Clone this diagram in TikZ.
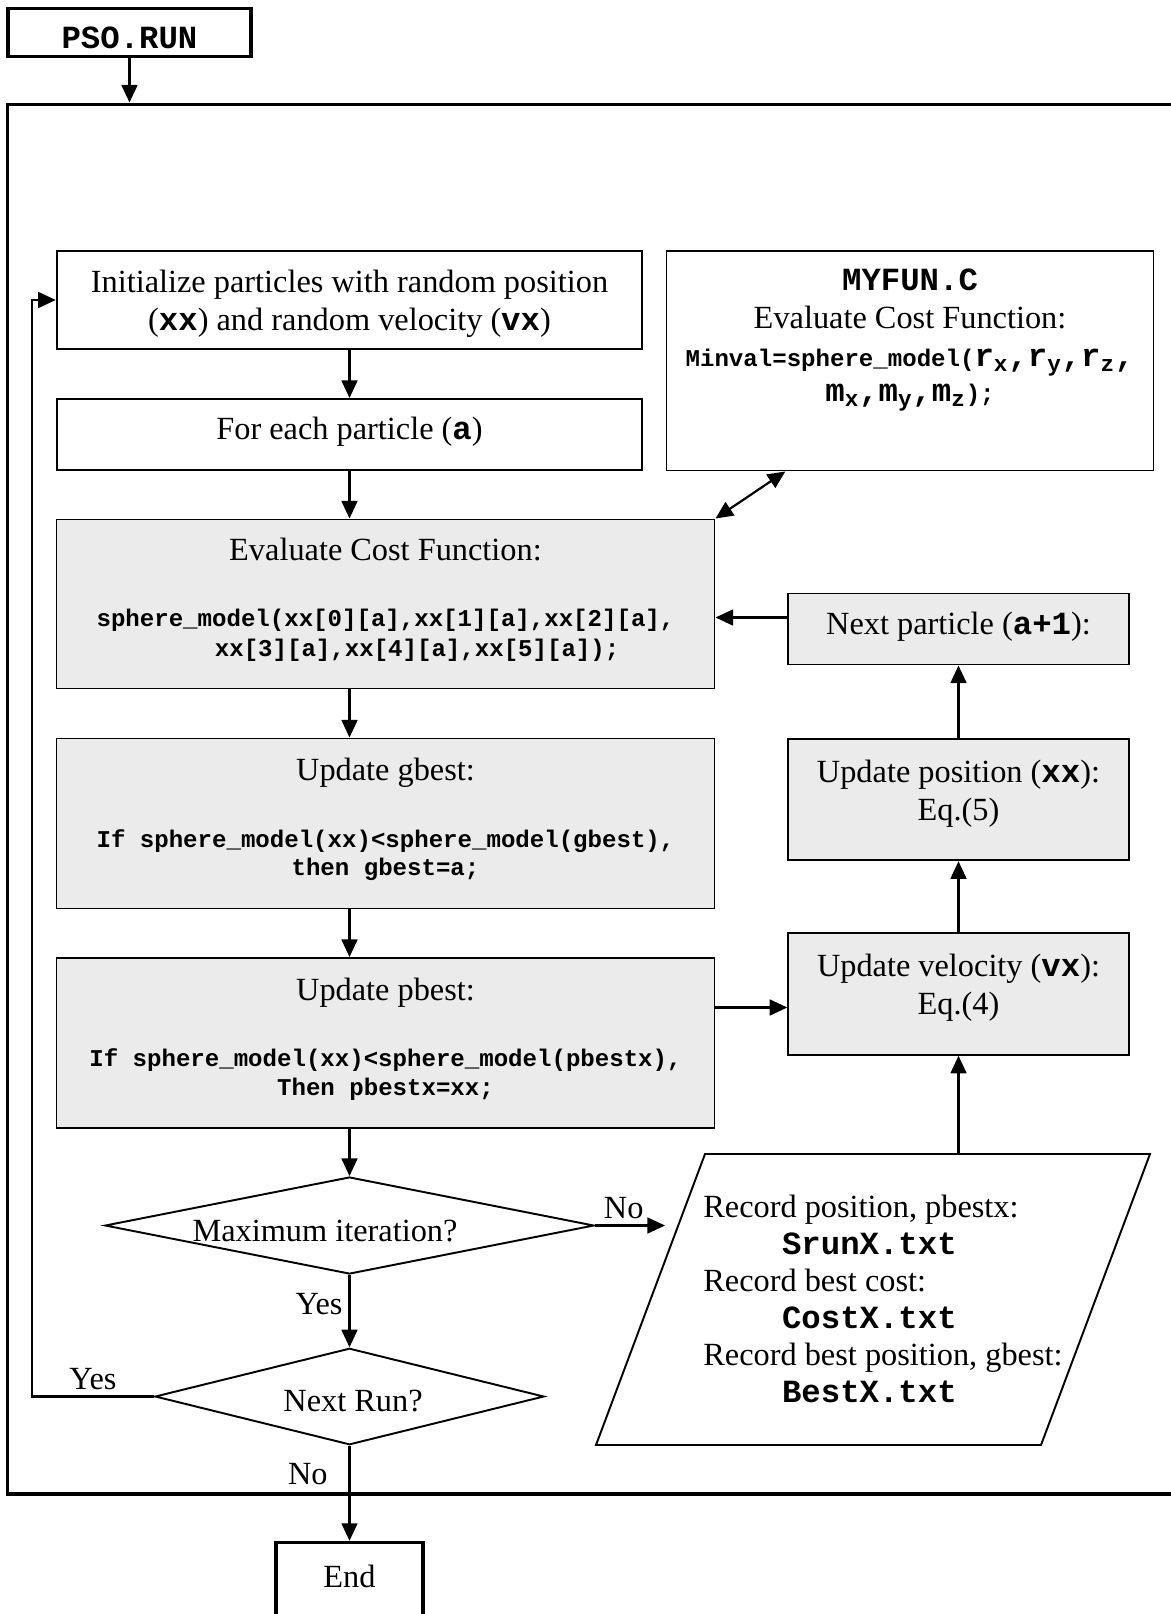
\documentclass[tikz,border=0pt]{standalone}
\usepackage{fontspec}
\setmainfont{Liberation Serif}
\newfontfamily\codefont{Liberation Mono}
\usetikzlibrary{arrows.meta}
\usetikzlibrary{shapes.geometric}
\usetikzlibrary{calc}
\newcommand{\cbig}[1]{{\codefont\bfseries #1}}
\newcommand{\csmall}[1]{{\codefont\bfseries\fontsize{13.7}{16.9}\selectfont #1}}
\tikzset{
	box/.style={draw, line width=1.1pt, align=center, inner sep=0pt},
	graybox/.style={box, fill=black!8},
	thickbox/.style={box, line width=1.9pt},
	decision/.style={draw, diamond, line width=1.1pt, inner sep=0pt},
	flow/.style={-{Triangle[length=10pt, width=9pt]}, line width=1.25pt},
}

\begin{document}
\begin{tikzpicture}[font=\fontsize{18.4}{21.6}\selectfont]
	\clip (0,0) rectangle (23.42,-32.28);
	\node[box, line width=2.2pt, minimum width=23.85cm, minimum height=27.79cm] (frame) at (12.075,-15.985) {};
	\node[thickbox, minimum width=4.86cm, minimum height=0.97cm, text height=18pt] (pso) at (2.59,-0.65) {\cbig{PSO.RUN}};

	% left column
	\node[box, minimum width=11.71cm, minimum height=1.95cm, text depth=0pt] (init) at (6.99,-6.0) {Initialize particles with random position\\(\cbig{xx}) and random velocity (\cbig{vx})};
	\node[box, minimum width=11.71cm, minimum height=1.42cm, text depth=7.5pt] (foreach) at (6.99,-8.69) {For each particle (\cbig{a})};
	\node[graybox, minimum width=13.16cm, minimum height=3.38cm, text depth=7.5pt] (eval) at (7.71,-12.08) {Evaluate Cost Function:\\[16.2pt]\csmall{sphere\_model(xx[0][a],xx[1][a],xx[2][a],}\\[-4.7pt]\hspace*{36pt}\csmall{xx[3][a],xx[4][a],xx[5][a]);}};
	\node[graybox, minimum width=13.16cm, minimum height=3.40cm, text depth=7.5pt] (gbest) at (7.71,-16.47) {Update gbest:\\[16.2pt]\csmall{If sphere\_model(xx)<sphere\_model(gbest),}\\[-5.5pt]\csmall{then gbest=a;}};
	\node[graybox, minimum width=13.16cm, minimum height=3.40cm, text depth=7.5pt] (pbest) at (7.71,-20.86) {Update pbest:\\[16.2pt]\csmall{If sphere\_model(xx)<sphere\_model(pbestx),}\\[-5.5pt]\csmall{Then pbestx=xx;}};
	\node[decision, minimum width=9.78cm, minimum height=1.94cm] (maxit) at (6.99,-24.51) {};
	\node (maxittext) at (6.5,-24.62) {Maximum iteration?};
	\node[decision, minimum width=7.78cm, minimum height=1.93cm] (nextrun) at (6.99,-27.93) {};
	\node (nextruntext) at (7.06,-28.03) {Next Run?};
	\node[thickbox, minimum width=2.94cm, minimum height=1.5cm, text depth=4pt] (endbox) at (6.99,-31.6) {End};

	% right column
	\node[box, minimum width=9.74cm, minimum height=4.39cm] (myfun) at (18.2,-7.215) {};
	\node[align=center] (myfuntext) at (18.2,-6.8) {\cbig{MYFUN.C}\\Evaluate Cost Function:\\\csmall{Minval=sphere\_model(}\cbig{r\textsubscript{x},r\textsubscript{y},r\textsubscript{z},}\\[-1.5pt]\cbig{m\textsubscript{x},m\textsubscript{y},m\textsubscript{z}}\csmall{);}};
	\node[graybox, minimum width=6.81cm, minimum height=1.42cm, text depth=6.3pt] (nextp) at (19.17,-12.58) {Next particle (\cbig{a+1}):};
	\node[graybox, minimum width=6.81cm, minimum height=2.43cm, text depth=10.8pt] (pos) at (19.17,-15.99) {Update position (\cbig{xx}):\\Eq.(5)};
	\node[graybox, minimum width=6.81cm, minimum height=2.43cm, text depth=10.8pt] (velo) at (19.17,-19.88) {Update velocity (\cbig{vx}):\\Eq.(4)};

	% output files
	\coordinate (recnw) at (14.1,-23.08);
	\coordinate (recne) at (23.0,-23.08);
	\coordinate (recse) at (20.82,-28.9);
	\coordinate (recsw) at (11.92,-28.9);
	\coordinate (rectop) at (19.17,-23.08);
	\draw[line width=1.1pt] (recsw) -- (recnw) -- (recne) -- (recse) -- cycle;
	\node[align=left, anchor=north west, inner sep=0pt, font=\fontsize{18.4}{21}\selectfont] (rectext) at (14.06,-23.9) {Record position, pbestx:\\\hspace*{44.8pt}\cbig{SrunX.txt}\\Record best cost:\\\hspace*{44.8pt}\cbig{CostX.txt}\\Record best position, gbest:\\\hspace*{44.8pt}\cbig{BestX.txt}};

	\coordinate (back) at (0.64,0);
	\coordinate (noend) at (13.3,-24.51);

	\draw[flow] (pso.south) -- (pso.south |- frame.north);
	\draw[flow] (init) -- (foreach);
	\draw[flow] (foreach.south) -- (foreach.south |- eval.north);
	\draw[flow] (eval.south -| init) -- (gbest.north -| init);
	\draw[flow] (gbest.south -| init) -- (pbest.north -| init);
	\draw[flow] (pbest.south -| init) -- (maxit.north);
	\draw[flow] (maxit.south) -- node[left, pos=.4] (yes1) {Yes} (nextrun.north);
	\draw[flow] (nextrun.south) -- node[left, pos=.3, xshift=-.3cm] (no2) {No} (endbox.north);
	\draw[flow] (nextrun.west) -- node[above] (yes2) {Yes} (nextrun.west -| back) |- (init.west);
	\draw[flow] (maxit.east) -- node[above, pos=.41] (no1) {No} (noend);
	\draw[flow] (rectop) -- (velo);
	\draw[flow] (velo) -- (pos);
	\draw[flow] (pos) -- (nextp);
	\draw[flow] ([yshift=.23cm]nextp.west) -- ([yshift=.23cm]nextp.west -| eval.east);
	\draw[flow] ([yshift=-.27cm]velo.west -| pbest.east) -- ([yshift=-.27cm]velo.west);
	\draw[flow, {Triangle[length=10pt, width=9pt]}-{Triangle[length=10pt, width=9pt]}] (eval.north east) -- ($(myfun.south west)!.245!(myfun.south east)$);
\end{tikzpicture}
\end{document}
